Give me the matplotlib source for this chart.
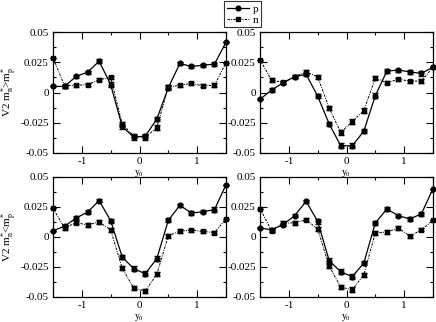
import matplotlib
matplotlib.use("Agg")
import matplotlib.pyplot as plt
from matplotlib.ticker import MultipleLocator, FixedLocator
from matplotlib.lines import Line2D

plt.rcParams['font.family'] = ['Liberation Serif', 'DejaVu Serif']
plt.rcParams['mathtext.fontset'] = 'custom'
plt.rcParams['mathtext.rm'] = 'Liberation Serif'
plt.rcParams['mathtext.it'] = 'Liberation Serif'

y0 = [-1.5, -1.3, -1.1, -0.9, -0.7, -0.5, -0.3, -0.1, 0.1, 0.3, 0.5, 0.7, 0.9, 1.1, 1.3, 1.5]

# top-left (m_n* > m_p*)
tl_p = [0.005, 0.005, 0.0133, 0.0168, 0.0259, 0.0065, -0.028, -0.037, -0.036, -0.022, 0.004, 0.024, 0.0215, 0.0225, 0.0235, 0.0415]
tl_n = [0.0289, 0.0055, 0.006, 0.0065, 0.0105, 0.0125, -0.026, -0.036, -0.037, -0.029, 0.0045, 0.006, 0.0075, 0.0055, 0.006, 0.0246]
# top-right
tr_p = [-0.0056, 0.002, 0.008, 0.013, 0.015, -0.003, -0.026, -0.044, -0.044, -0.032, -0.0026, 0.0177, 0.0185, 0.017, 0.0158, 0.021]
tr_n = [0.027, 0.0103, 0.0084, 0.013, 0.017, 0.013, -0.013, -0.033, -0.024, -0.015, 0.012, 0.008, 0.011, 0.0094, 0.0094, 0.021]
# bottom-left (m_n* < m_p*)
bl_p = [0.0053, 0.0089, 0.0158, 0.0208, 0.0303, 0.0136, -0.0167, -0.0264, -0.0306, -0.018, 0.0139, 0.0264, 0.020, 0.021, 0.0228, 0.0436]
bl_n = [0.024, 0.0075, 0.012, 0.010, 0.0125, 0.006, -0.026, -0.0425, -0.045, -0.031, 0.001, 0.005, 0.0056, 0.0047, 0.0036, 0.0153]
# bottom-right
br_p = [0.0075, 0.006, 0.0103, 0.0178, 0.0297, 0.013, -0.0197, -0.029, -0.033, -0.0217, 0.0117, 0.0233, 0.0178, 0.015, 0.0194, 0.0403]
br_n = [0.0236, 0.0053, 0.0117, 0.0117, 0.0144, 0.0067, -0.0244, -0.0417, -0.044, -0.0314, 0.0033, 0.0042, 0.0075, 0.0006, 0.0061, 0.0139]

err_p = [0.0, 0.0015, 0.0013, 0.0013, 0.0015, 0.0018, 0.0018, 0.0020, 0.0020, 0.0018, 0.0018, 0.0015, 0.0013, 0.0013, 0.0018, 0.0]
err_n = [0.0, 0.0015, 0.0013, 0.0013, 0.0013, 0.0015, 0.0018, 0.0020, 0.0020, 0.0018, 0.0015, 0.0013, 0.0013, 0.0013, 0.0015, 0.0]

yticks = [-0.05, -0.025, 0, 0.025, 0.05]
ytick_labels = ['-0.05', '-0.025', '0', '0.025', '0.05']
xticks = [-1, 0, 1]
xtick_labels = ['-1', '0', '1']

W, H = 436, 322
fig = plt.figure(figsize=(W / 100, H / 100), dpi=100)

def rect(l, r, t, b):
    return [l / W, 1 - b / H, (r - l) / W, (b - t) / H]

axes = [
    fig.add_axes(rect(53, 226, 32, 153)),
    fig.add_axes(rect(260, 433, 32, 153)),
    fig.add_axes(rect(53, 226, 177, 297)),
    fig.add_axes(rect(260, 433, 177, 297)),
]
data = [(tl_p, tl_n), (tr_p, tr_n), (bl_p, bl_n), (br_p, br_n)]

ndash = (0, (2.5, 1.2, 1, 1.2))
for ax, (p, n) in zip(axes, data):
    ax.errorbar(y0, n, yerr=err_n, color='black', lw=0.7, ls=ndash, marker='s', ms=3.4,
                capsize=2.4, elinewidth=1.0, capthick=1.0, clip_on=False, zorder=3)
    ax.errorbar(y0, p, yerr=err_p, color='black', lw=0.9, ls='-', marker='o', ms=3.4,
                capsize=2.4, elinewidth=1.0, capthick=1.0, clip_on=False, zorder=4)
    ax.set_xlim(-1.5, 1.5)
    ax.set_ylim(-0.05, 0.05)
    ax.xaxis.set_major_locator(FixedLocator(xticks))
    ax.set_xticklabels(xtick_labels)
    ax.xaxis.set_minor_locator(MultipleLocator(0.5))
    ax.yaxis.set_major_locator(FixedLocator(yticks))
    ax.set_yticklabels(ytick_labels)
    ax.yaxis.set_minor_locator(MultipleLocator(0.0125))
    ax.tick_params(which='both', direction='in', top=True, right=True, labelsize=8, pad=3)
    ax.tick_params(which='major', length=5, width=0.8)
    ax.tick_params(which='minor', length=2.5, width=0.8)
    for s in ax.spines.values():
        s.set_linewidth(0.9)
    ax.set_xlabel(r'y$_0$', fontsize=7, labelpad=1)

axes[0].set_ylabel(r'V2 m$_n^{*}$>m$_p^{*}$', fontsize=8)
axes[2].set_ylabel(r'V2 m$_n^{*}$<m$_p^{*}$', fontsize=8)
for ax in (axes[0], axes[2]):
    ax.yaxis.set_label_coords(-0.195, 0.5)

handles = [
    Line2D([], [], color='black', lw=0.9, ls='-', marker='o', ms=3.4),
    Line2D([], [], color='black', lw=0.7, ls=ndash, marker='s', ms=3.4),
]
leg = fig.legend(handles, ['p', 'n'], loc='upper left', bbox_to_anchor=(223 / W, 1.0),
                 fontsize=8, frameon=True, fancybox=False, handlelength=2.0,
                 handletextpad=0.3, borderpad=0.25, labelspacing=0.1, borderaxespad=0.1)
leg.get_frame().set_edgecolor('black')
leg.get_frame().set_linewidth(0.8)

fig.savefig('out.png', dpi=100)
